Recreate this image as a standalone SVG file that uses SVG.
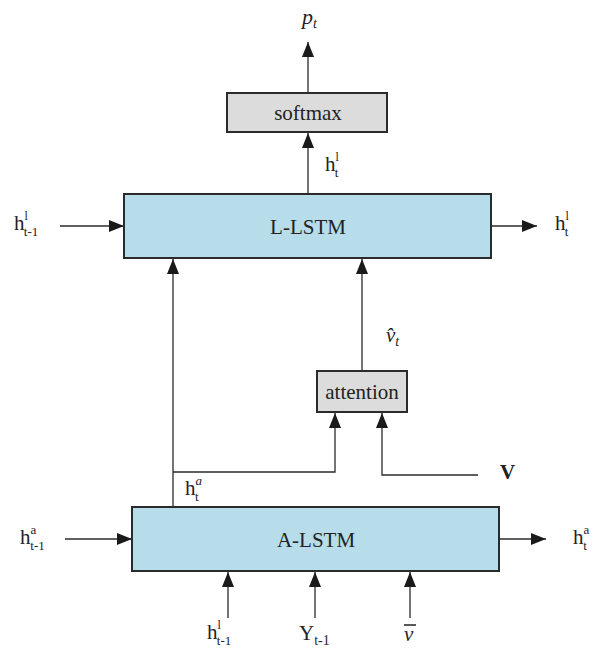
<svg xmlns="http://www.w3.org/2000/svg" width="593" height="652" viewBox="0 0 593 652">
<defs>
<marker id="arr" markerWidth="15" markerHeight="12" refX="15" refY="6" orient="auto" markerUnits="userSpaceOnUse">
<path d="M0,0 L15,6 L0,12 Z" fill="#1a1a1a"/>
</marker>
<style>
.box{stroke:#2b2b2b;stroke-width:2}
.lstm{fill:#b6dde9}
.gray{fill:#dcdcdd}
.ln{stroke:#2b2b2b;stroke-width:1.3;fill:none}
.t{font-family:"Liberation Serif","Times New Roman",serif;fill:#222}
.i{font-style:italic}
</style>
</defs>
<rect width="593" height="652" fill="#fff"/>
<g id="connectors">
<line class="ln" x1="308" y1="93" x2="308" y2="42" marker-end="url(#arr)"/>
<line class="ln" x1="308" y1="194" x2="308" y2="133" marker-end="url(#arr)"/>
<line class="ln" x1="60" y1="226" x2="124" y2="226" marker-end="url(#arr)"/>
<line class="ln" x1="491" y1="226" x2="537" y2="226" marker-end="url(#arr)"/>
<line class="ln" x1="173" y1="507" x2="173" y2="259" marker-end="url(#arr)"/>
<line class="ln" x1="362" y1="371" x2="362" y2="259" marker-end="url(#arr)"/>
<polyline class="ln" points="173,472 335,472 335,413" marker-end="url(#arr)"/>
<polyline class="ln" points="478,475 382,475 382,413" marker-end="url(#arr)"/>
<line class="ln" x1="65" y1="539" x2="132" y2="539" marker-end="url(#arr)"/>
<line class="ln" x1="499" y1="539" x2="546" y2="539" marker-end="url(#arr)"/>
<line class="ln" x1="228" y1="618" x2="228" y2="572" marker-end="url(#arr)"/>
<line class="ln" x1="315" y1="618" x2="315" y2="572" marker-end="url(#arr)"/>
<line class="ln" x1="410" y1="618" x2="410" y2="572" marker-end="url(#arr)"/>
</g>
<g id="softmax">
<rect class="box gray" x="227" y="93" width="160" height="39"/>
<text class="t" x="308" y="120" font-size="21" text-anchor="middle">softmax</text>
</g>
<g id="l-lstm">
<rect class="box lstm" x="124" y="194" width="367" height="64"/>
<text class="t" x="308" y="234" font-size="21" text-anchor="middle">L-LSTM</text>
</g>
<g id="attention">
<rect class="box gray" x="317" y="371" width="90" height="41"/>
<text class="t" x="362" y="399" font-size="21" text-anchor="middle">attention</text>
</g>
<g id="a-lstm">
<rect class="box lstm" x="132" y="507" width="367" height="64"/>
<text class="t" x="316" y="547" font-size="21" text-anchor="middle">A-LSTM</text>
</g>
<g id="labels">
<text class="t i" x="302" y="24" font-size="22">p<tspan font-size="14" dy="4">t</tspan></text>
<text class="t" x="325" y="171" font-size="21">h<tspan font-size="12" dy="-10">l</tspan><tspan font-size="13" dx="-4" dy="16">t</tspan></text>
<text class="t" x="14" y="230" font-size="21">h<tspan font-size="12" dy="-10">l</tspan><tspan font-size="13" dx="-4" dy="16">t-1</tspan></text>
<text class="t" x="555" y="230" font-size="21">h<tspan font-size="12" dy="-10">l</tspan><tspan font-size="13" dx="-4" dy="16">t</tspan></text>
<text class="t i" x="386" y="342" font-size="21">v̂<tspan font-size="14" dy="4">t</tspan></text>
<text class="t" x="500" y="479" font-size="21" font-weight="bold">V</text>
<text class="t" x="185" y="495" font-size="21">h<tspan font-size="13" font-style="italic" dy="-10">a</tspan><tspan font-size="13" dx="-7" dy="16">t</tspan></text>
<text class="t" x="20" y="544" font-size="21">h<tspan font-size="13" dy="-10">a</tspan><tspan font-size="13" dx="-6" dy="16">t-1</tspan></text>
<text class="t" x="573" y="544" font-size="21">h<tspan font-size="13" dy="-10">a</tspan><tspan font-size="13" dx="-6" dy="16">t</tspan></text>
<text class="t" x="207" y="639" font-size="21">h<tspan font-size="12" dy="-10">l</tspan><tspan font-size="13" dx="-4" dy="16">t-1</tspan></text>
<text class="t" x="299" y="640" font-size="21">Y<tspan font-size="14" dy="5">t-1</tspan></text>
<text class="t i" x="404" y="641" font-size="21">v</text>
<line x1="404" y1="625" x2="416" y2="625" stroke="#222" stroke-width="1.5"/>
</g>
</svg>
